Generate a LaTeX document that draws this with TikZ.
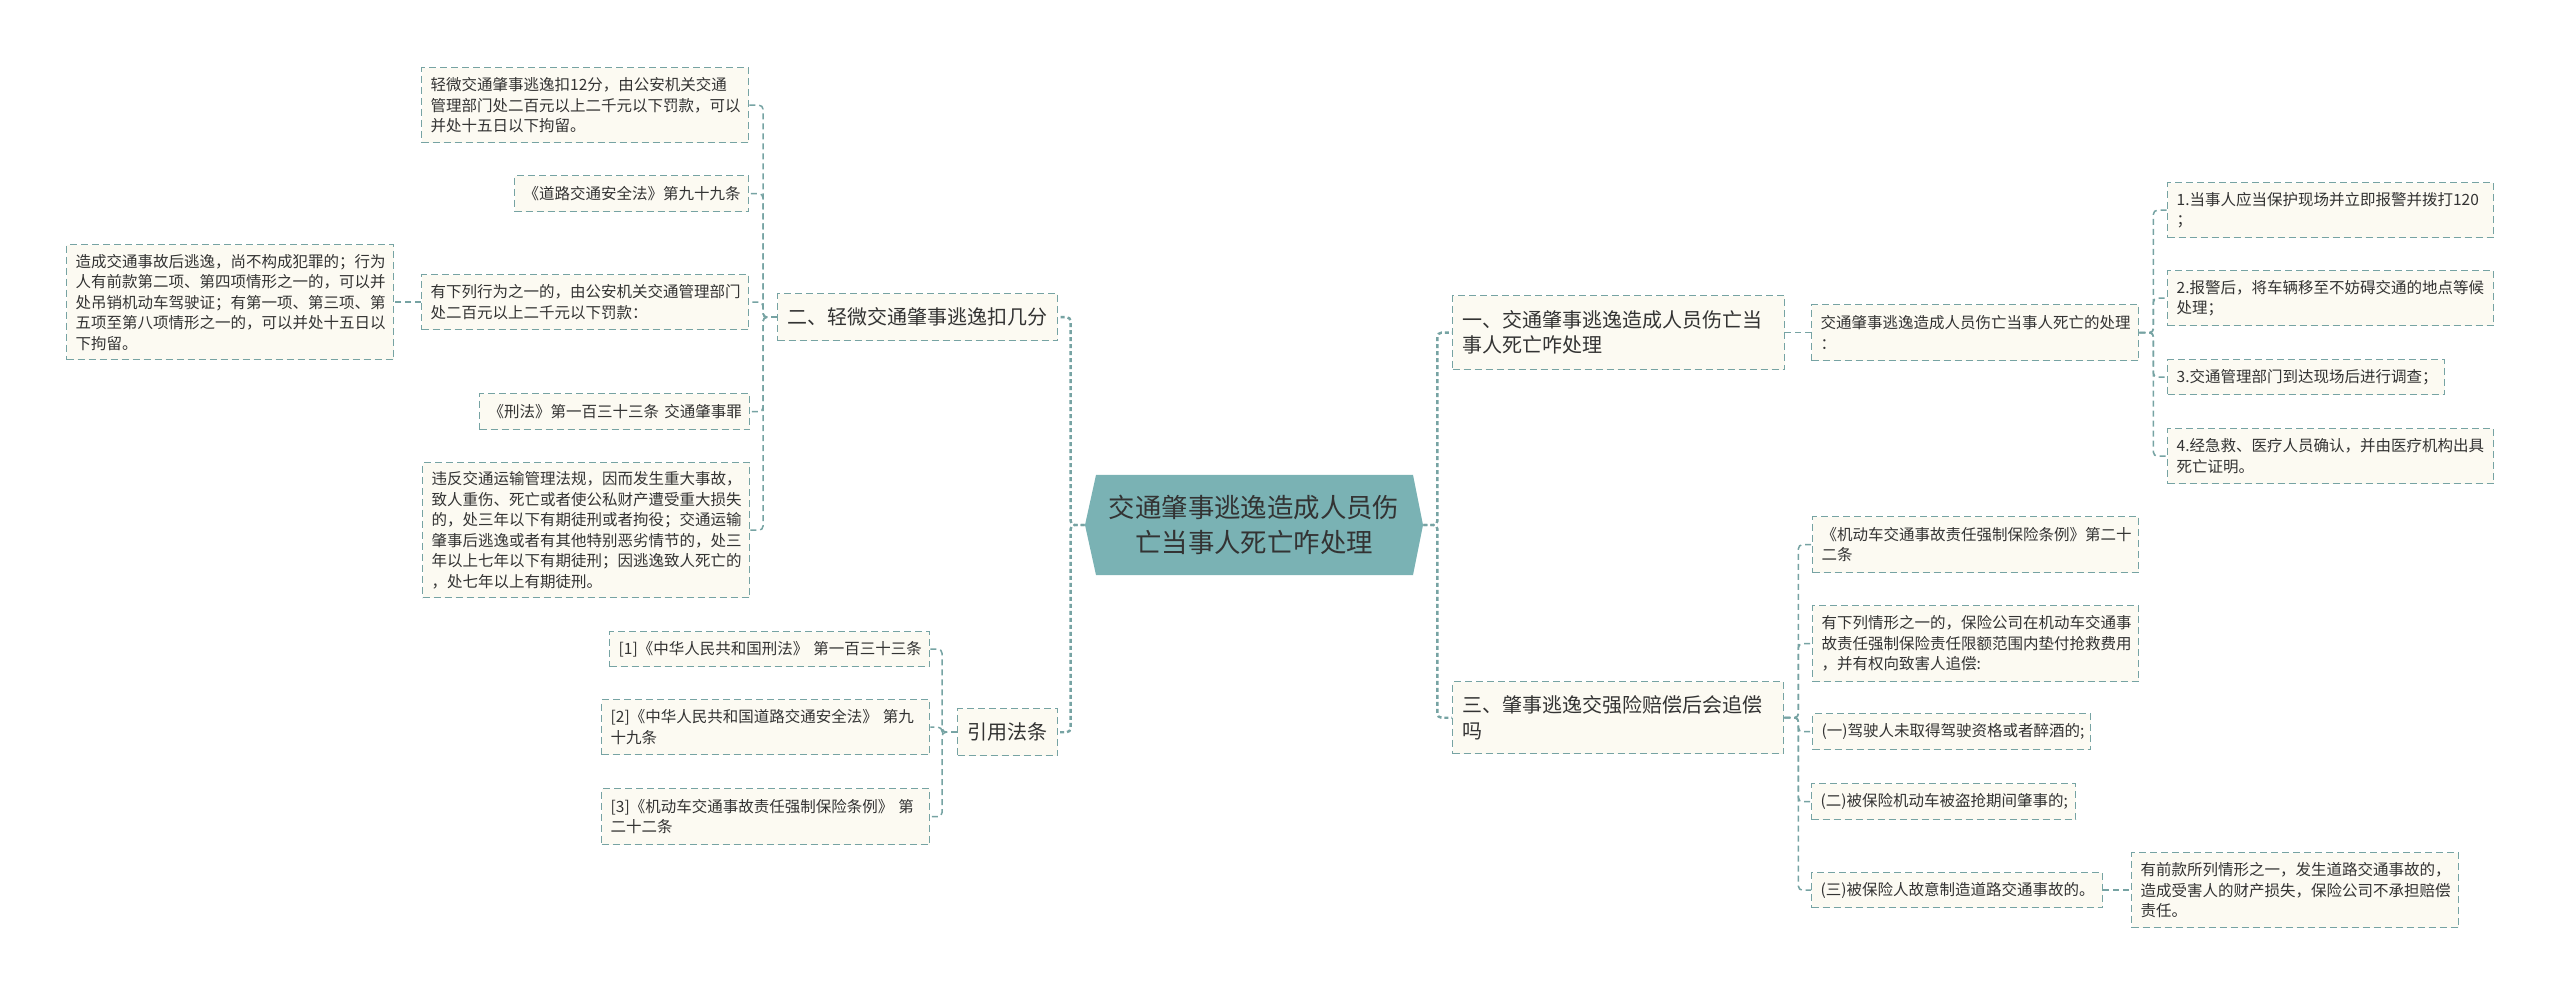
\documentclass[tikz,border=0pt]{standalone}
\usepackage{fontspec}
\setmainfont{Noto Sans CJK SC}
\usetikzlibrary{calc}
\definecolor{lc}{RGB}{118,163,163}
\definecolor{bf}{RGB}{252,250,242}
\definecolor{cf}{RGB}{122,178,180}
\definecolor{tx}{RGB}{51,51,51}
\begin{document}
\begin{tikzpicture}[x=0.5pt,y=-0.5pt,
 leaf/.style 2 args={draw=lc, fill=bf, line width=0.7pt, dash pattern=on 3.5pt off 2pt, anchor=north west,
   inner xsep=4.5pt, inner ysep=0pt, minimum width=#1*0.5pt, minimum height=#2*0.5pt,
   text width=#1*0.5pt-9pt, align=left, text=tx, font=\fontsize{7.75pt}{10.25pt}\selectfont},
 lev/.style 2 args={leaf={#1}{#2}, inner xsep=5pt, text width=#1*0.5pt-10pt, font=\fontsize{10pt}{12.6pt}\selectfont},
 centre/.style={minimum width=169pt, minimum height=50pt, inner sep=0pt, align=center, text=tx,
   font=\fontsize{13.2pt}{17.5pt}\selectfont,
   path picture={\fill[cf] (path picture bounding box.west)
     -- ($(path picture bounding box.north west)+(11,0)$)
     -- ($(path picture bounding box.north east)+(-10,0)$)
     -- (path picture bounding box.east)
     -- ($(path picture bounding box.south east)+(-10,0)$)
     -- ($(path picture bounding box.south west)+(11,0)$) -- cycle;}},
 conn/.style={draw=lc, line width=0.75pt, dash pattern=on 3pt off 2pt, rounded corners=2pt},
 mconn/.style={conn, line width=1.2pt, dash pattern=on 2pt off 1.5pt}]
\useasboundingbox[fill=white] (0,0) rectangle (2560,994);

% central
\node[centre] (c) at (1254,525) {交通肇事逃逸造成人员伤\\亡当事人死亡咋处理};

% branch 二
\node[lev={280}{47}] (er) at (777,293) {二、轻微交通肇事逃逸扣几分};
\node[leaf={327}{75}] (a1) at (421,67) {轻微交通肇事逃逸扣12分，由公安机关交通\\管理部门处二百元以上二千元以下罚款，可以\\并处十五日以下拘留。};
\node[leaf={234}{36}] (a2) at (514,175) {《道路交通安全法》第九十九条};
\node[leaf={327}{55}] (a3) at (421,274) {有下列行为之一的，由公安机关交通管理部门\\处二百元以上二千元以下罚款：};
\node[leaf={327}{115}] (a3a) at (66,244) {造成交通事故后逃逸，尚不构成犯罪的；行为\\人有前款第二项、第四项情形之一的，可以并\\处吊销机动车驾驶证；有第一项、第三项、第\\五项至第八项情形之一的，可以并处十五日以\\下拘留。};
\node[leaf={270}{36}] (a4) at (479,393) {\mbox{《刑法》第一百三十三条~交通肇事罪}};
\node[leaf={327}{135}] (a5) at (422,462) {违反交通运输管理法规，因而发生重大事故，\\致人重伤、死亡或者使公私财产遭受重大损失\\的，处三年以下有期徒刑或者拘役；交通运输\\肇事后逃逸或者有其他特别恶劣情节的，处三\\年以上七年以下有期徒刑；因逃逸致人死亡的\\，处七年以上有期徒刑。};

% 引用法条
\node[lev={100}{47}] (yin) at (957,708) {引用法条};
\node[leaf={320}{35}] (c1) at (609,631) {\mbox{[1]《中华人民共和国刑法》~第一百三十三条}};
\node[leaf={328}{55}] (c2) at (601,699) {[2]《中华人民共和国道路交通安全法》~第九\\十九条};
\node[leaf={328}{56}] (c3) at (601,788) {[3]《机动车交通事故责任强制保险条例》~第\\二十二条};

% branch 一
\node[lev={332}{74}] (b1) at (1452,295) {一、交通肇事逃逸造成人员伤亡当\\事人死亡咋处理};
\node[leaf={327}{56}] (b1a) at (1811,304) {交通肇事逃逸造成人员伤亡当事人死亡的处理\\：};
\node[leaf={326}{55}] (d1) at (2167,182) {1.当事人应当保护现场并立即报警并拨打120\\；};
\node[leaf={326}{55}] (d2) at (2167,270) {2.报警后，将车辆移至不妨碍交通的地点等候\\处理；};
\node[leaf={277}{35}] (d3) at (2167,359) {3.交通管理部门到达现场后进行调查；};
\node[leaf={326}{55}] (d4) at (2167,428) {4.经急救、医疗人员确认，并由医疗机构出具\\死亡证明。};

% branch 三
\node[lev={331}{72}] (b2) at (1452,681) {三、肇事逃逸交强险赔偿后会追偿\\吗};
\node[leaf={326}{56}] (e1) at (1812,516) {《机动车交通事故责任强制保险条例》第二十\\二条};
\node[leaf={326}{76}] (e2) at (1812,605) {有下列情形之一的，保险公司在机动车交通事\\故责任强制保险责任限额范围内垫付抢救费用\\，并有权向致害人追偿:};
\node[leaf={278}{36}] (e3) at (1812,713) {(一)驾驶人未取得驾驶资格或者醉酒的;};
\node[leaf={264}{36}] (e4) at (1811,783) {(二)被保险机动车被盗抢期间肇事的;};
\node[leaf={291}{35}] (e5) at (1811,872) {(三)被保险人故意制造道路交通事故的。};
\node[leaf={327}{75}] (e5a) at (2131,852) {有前款所列情形之一，发生道路交通事故的，\\造成受害人的财产损失，保险公司不承担赔偿\\责任。};

% connectors
\draw[mconn] (c.west) -- ++(-14,0) |- (er.east);
\draw[mconn] (c.west) -- ++(-14,0) |- (yin.east);
\draw[mconn] (c.east) -- ++(14,0) |- (b1.west);
\draw[mconn] (c.east) -- ++(14,0) |- (b2.west);

\foreach \n in {a1,a2,a3,a4,a5} \draw[conn] (er.west) -- ++(-14,0) |- (\n.east);
\draw[conn] (a3.west) -- (a3a.east);
\foreach \n in {c1,c2,c3} \draw[conn] (yin.west) -- ++(-15,0) |- (\n.east);
\draw[conn] (b1.east) -- (b1a.west);
\foreach \n in {d1,d2,d3,d4} \draw[conn] (b1a.east) -- ++(14,0) |- (\n.west);
\foreach \n in {e1,e2,e3,e4,e5} \draw[conn] (b2.east) -- ++(14,0) |- (\n.west);
\draw[conn] (e5.east) -- (e5a.west);
\end{tikzpicture}
\end{document}
